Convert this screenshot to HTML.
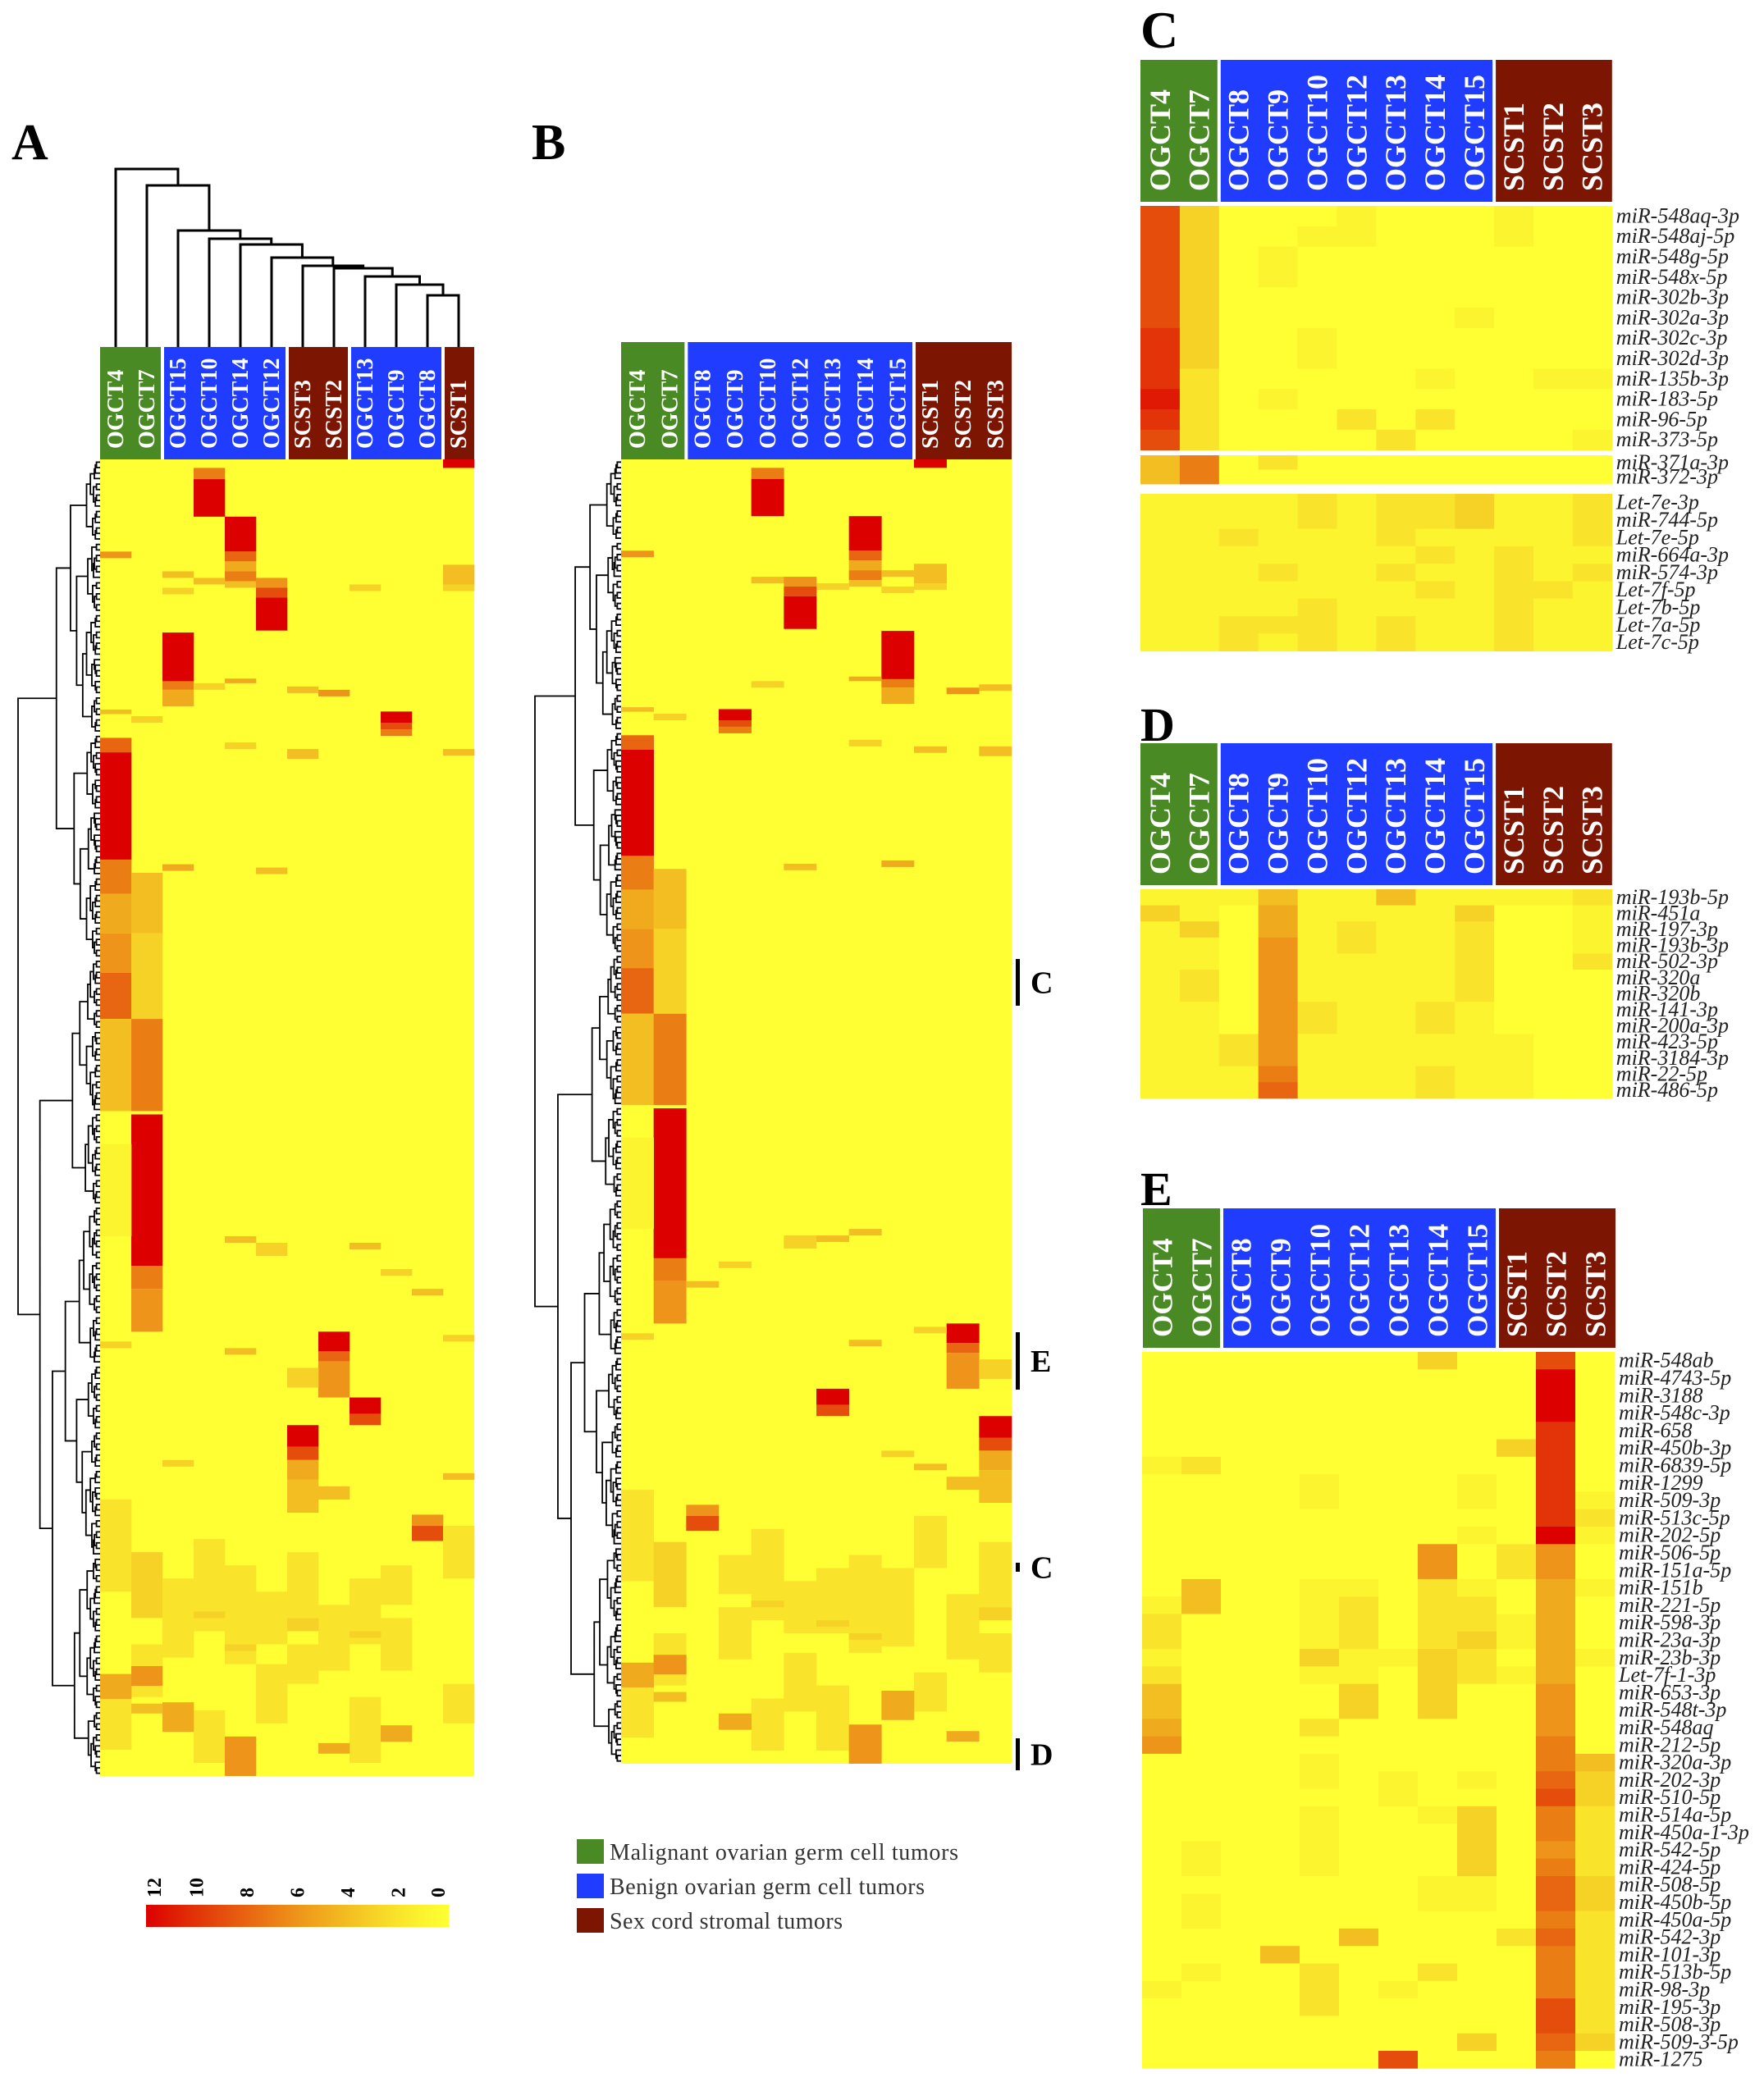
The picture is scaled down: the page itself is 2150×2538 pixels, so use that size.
<!DOCTYPE html>
<html><head><meta charset="utf-8">
<style>
html,body{margin:0;padding:0;background:#fff;}
svg{display:block;}
text{font-family:"Liberation Serif",serif;}
</style></head>
<body>
<svg id="fig" width="2150" height="2538" viewBox="0 0 2150 2538" xmlns="http://www.w3.org/2000/svg"></svg>
<script>
// ---------- data ----------
const aColumns = ['OGCT4','OGCT7','OGCT15','OGCT10','OGCT14','OGCT12','SCST3','SCST2','OGCT13','OGCT9','OGCT8','SCST1'];
const aGroups  = ['m','m','b','b','b','b','s','s','b','b','b','s'];
const bColumns = ['OGCT4','OGCT7','OGCT8','OGCT9','OGCT10','OGCT12','OGCT13','OGCT14','OGCT15','SCST1','SCST2','SCST3'];
const bGroups  = ['m','m','b','b','b','b','b','b','b','s','s','s'];
const bFromA   = [0,1,8,4,7,5,11,10,6,3,2,9];
const topMergeY = [206,226,281,291,298,314,324,327,337,347,360];
// heatmap segments (A column order, row units of 200)
const segCol = [11,3,3,4,4,4,4,4,0,2,11,11,3,2,8,5,5,5,2,2,2,3,4,7,6,0,9,9,9,1,0,0,6,4,11,0,0,0,0,0,1,1,1,2,5,1,1,1,0,4,5,8,10,9,7,7,7,6,11,0,4,8,8,6,6,6,6,7,2,11,10,10,
  0,1,2,3,4,5,6,7,8,9,11,0,1,3,5,8,2,4,6,9,11,
  0,1,2,4,7,9,1,4,6,8,3,5,11];
const segStart=[0,1.3,3,8.7,14,15.5,17,18.5,14,17,16,19,18,19.5,19,18,19.5,21,26.3,33.7,35,34,33.3,35,34.5,38,38.3,40,41,39,42.3,44.5,44,43,44,60.8,66,72,78,85,62.8,72,85,61.5,62,99.5,122.5,126,104,118,119,119,126,123,132.5,135.5,137,138,133,134,135,142.5,145,146.7,150,152,155,156,152,154,160.3,162,
  158,166,170,164,168,172,166,174,170,176,162,186,180,190,183,188,176,178,180,168,186,
  184.5,183.3,188.8,194,195,192.3,189,180,176,178,175];
const segEnd = [1.3,3,8.7,14,15.5,17,18.5,19.5,15,18,19,20,19,20.5,20,19.5,21,26,33.7,35,37.5,35,34,36,35.5,38.7,40,41,42,40,44.5,60.8,45.5,44,45,66,72,78,85,99,72,85,99,62.5,63,122.5,126,132.5,118,119,121,120,127,124,135.5,137,142.5,141,134,135,136,145,146.7,150,152,155,160,158,153,155,162,164.3,
  172,176,180,178,182,180,176,184,180,184,170,196,188,198,192,198,182,183,186,174,192,
  188.3,186.3,193.3,200,196.6,194.8,190.5,181,178,179,176];
const segVal = [12,7,12,12,8,5,7,4,6,4,4,3,4,3,3,6,9,12,12,7,5,3,5,6,4,4,12,9,7,3,8,12,4,3,4,7,5,6,8,4,4,3,7,5,4,12,7,6,1,4,3,4,4,3,12,8,6,3,3,3,4,12,9,12,9,5,4,4,3,4,6,9,
  2,3,2,2,2,2,2,2,2,2,2,2,2,2,2,2,2,2,2,2,2,
  5,6,5,6,5,5,4,3,3,3,3];
// panel C
const cLabels1 = ['miR-548aq-3p','miR-548aj-5p','miR-548g-5p','miR-548x-5p','miR-302b-3p','miR-302a-3p','miR-302c-3p','miR-302d-3p','miR-135b-3p','miR-183-5p','miR-96-5p','miR-373-5p'];
const cLabels2 = ['miR-371a-3p','miR-372-3p'];
const cLabels3 = ['Let-7e-3p','miR-744-5p','Let-7e-5p','miR-664a-3p','miR-574-3p','Let-7f-5p','Let-7b-5p','Let-7a-5p','Let-7c-5p'];
const cValues1 = [
[9,3,0,0,0,1,0,0,0,1,0,0],[9,3,0,0,1,1,0,0,0,1,0,0],[9,3,0,1,0,0,0,0,0,0,0,0],[9,3,0,1,0,0,0,0,0,0,0,0],
[9,3,0,0,0,0,0,0,0,0,0,0],[9,3,0,0,0,0,0,0,1,0,0,0],[10,3,0,0,1,0,0,0,0,0,0,0],[10,3,0,0,1,0,0,0,0,0,0,0],
[10,2,0,0,0,0,0,1,0,0,1,1],[11,2,0,1,0,0,0,0,0,0,0,0],[10,2,0,0,0,2,0,2,0,0,0,0],[9,2,0,0,0,0,2,0,0,0,0,1]];
const cValues2 = [[4,7,0,2,0,0,0,0,0,0,0,0],[4,7,0,0,0,0,0,0,0,0,0,0]];
const cValues3 = [
[1,1,1,1,2,1,2,2,3,1,1,2],[1,1,1,1,2,1,2,2,3,1,1,2],[1,1,2,1,1,1,2,1,1,1,1,2],
[1,1,1,1,1,1,1,2,1,2,1,1],[1,1,1,2,1,1,2,1,1,2,1,2],[1,1,1,1,1,1,1,2,1,2,2,1],
[1,1,1,1,2,1,1,1,1,2,1,1],[1,1,2,2,2,1,2,1,1,2,1,1],[1,1,2,1,2,1,2,1,1,2,1,1]];
// panel D
const dLabels = ['miR-193b-5p','miR-451a','miR-197-3p','miR-193b-3p','miR-502-3p','miR-320a','miR-320b','miR-141-3p','miR-200a-3p','miR-423-5p','miR-3184-3p','miR-22-5p','miR-486-5p'];
const dValues = [
[1,1,1,4,1,1,4,1,1,1,1,2],[3,1,0,5,1,1,1,1,3,0,0,1],[1,3,0,5,1,2,1,1,2,0,0,1],[1,1,0,6,1,2,1,1,2,0,0,1],
[1,1,0,6,1,1,1,1,2,0,0,2],[1,2,0,6,1,1,1,1,2,0,0,0],[1,2,0,6,1,1,1,1,2,0,0,0],[1,1,0,6,2,1,1,2,1,0,0,0],
[1,1,0,6,2,1,1,2,1,0,0,0],[1,1,2,6,1,1,1,1,1,1,0,0],[1,1,2,6,1,1,1,1,1,1,0,0],[1,1,1,7,1,1,1,2,1,1,0,0],
[1,1,1,8,1,1,1,2,1,1,0,0]];
// panel E
const eLabels = ['miR-548ab','miR-4743-5p','miR-3188','miR-548c-3p','miR-658','miR-450b-3p','miR-6839-5p','miR-1299','miR-509-3p','miR-513c-5p','miR-202-5p','miR-506-5p','miR-151a-5p','miR-151b','miR-221-5p','miR-598-3p','miR-23a-3p','miR-23b-3p','Let-7f-1-3p','miR-653-3p','miR-548t-3p','miR-548aq','miR-212-5p','miR-320a-3p','miR-202-3p','miR-510-5p','miR-514a-5p','miR-450a-1-3p','miR-542-5p','miR-424-5p','miR-508-5p','miR-450b-5p','miR-450a-5p','miR-542-3p','miR-101-3p','miR-513b-5p','miR-98-3p','miR-195-3p','miR-508-3p','miR-509-3-5p','miR-1275'];
const eValues = [
[0,0,0,0,0,0,0,3,0,0,9,0],[0,0,0,0,0,0,0,0,0,0,12,0],[0,0,0,0,0,0,0,0,0,0,12,0],[0,0,0,0,0,0,0,0,0,0,12,0],
[0,0,0,0,0,0,0,0,0,0,10,0],[0,0,0,0,0,0,0,0,0,3,10,0],[1,2,0,0,0,0,0,0,0,0,10,0],[0,0,0,0,1,0,0,0,1,0,10,0],
[0,0,0,0,1,0,0,0,1,0,10,1],[0,0,0,0,0,0,0,0,0,0,10,2],[0,0,0,0,0,0,0,0,1,0,12,1],[0,0,0,0,0,0,0,6,0,2,6,0],
[0,0,0,0,0,0,0,6,0,2,6,0],[0,4,0,0,1,1,0,2,1,0,5,1],[1,4,0,0,1,2,0,2,2,0,5,0],[2,0,0,0,1,2,0,2,2,1,5,0],
[2,0,0,0,1,2,0,2,3,1,5,0],[1,0,0,0,3,1,1,3,2,0,5,1],[2,0,0,0,1,1,0,3,2,1,5,0],[4,0,0,0,0,3,0,3,0,0,6,0],
[4,0,0,0,0,3,0,3,0,0,6,0],[5,0,0,0,2,0,0,0,0,0,6,0],[6,0,0,0,0,0,0,0,0,0,7,0],[0,0,0,0,1,0,0,0,0,0,7,4],
[0,0,0,0,1,0,1,0,1,0,8,3],[0,0,0,0,0,0,1,0,0,0,9,3],[0,0,0,0,1,0,0,1,3,0,7,2],[0,0,0,0,1,0,0,0,3,0,7,2],
[0,1,0,0,1,0,0,0,3,0,6,2],[0,1,0,0,1,0,0,0,3,0,7,2],[0,0,0,0,0,0,0,1,1,0,8,3],[0,1,0,0,0,0,0,1,1,0,8,3],
[0,1,0,0,0,0,0,0,0,0,7,2],[0,0,0,0,0,4,0,0,0,2,8,2],[0,0,0,4,0,0,0,0,0,0,7,2],[0,1,0,0,2,0,0,2,0,0,7,2],
[1,0,0,0,2,0,1,0,0,0,7,2],[0,0,0,0,2,0,0,0,0,0,9,2],[0,0,0,0,0,0,0,0,0,0,9,2],[0,0,0,0,0,0,0,0,3,0,8,3],
[0,0,0,0,0,0,9,0,0,0,7,0]];
const scaleTicks = [12,10,8,6,4,2,0];
const legendLabels = ['Malignant ovarian germ cell tumors','Benign ovarian germ cell tumors','Sex cord stromal tumors'];

// ---------- drawing ----------
const NS='http://www.w3.org/2000/svg';
const svg=document.getElementById('fig');
const GC={m:'#4a8a24',b:'#1f3cff',s:'#7c1502'};
function el(tag,parent){const e=document.createElementNS(NS,tag);(parent||svg).appendChild(e);return e;}
function heat(v){const t=Math.max(0,Math.min(12,v))/12;return 'rgb('+Math.round(255-35*t)+','+Math.round(255*(1-Math.pow(t,1.25)))+','+Math.round(51*(1-t))+')';}
function txt(x,y,s,size,opt,parent){const t=el('text',parent);t.setAttribute('x',x);t.setAttribute('y',y);t.setAttribute('font-size',size);
  if(opt.bold)t.setAttribute('font-weight','bold');if(opt.italic)t.setAttribute('font-style','italic');
  t.setAttribute('fill',opt.fill||'#000');if(opt.rot)t.setAttribute('transform','rotate(-90 '+x+' '+y+')');
  if(opt.anchor)t.setAttribute('text-anchor',opt.anchor);t.textContent=s;return t;}

function header(x0,cw,y0,y1,cols,groups,fs,name){
  const g=el('g');
  let s=0;
  for(let i=1;i<=cols.length;i++){
    if(i===cols.length||groups[i]!==groups[s]){
      const r=el('rect',g);r.setAttribute('x',x0+s*cw+(s?2:0));r.setAttribute('y',y0);
      r.setAttribute('width',(i-s)*cw-(s?2:0)-(i<cols.length?2:0));r.setAttribute('height',y1-y0);r.setAttribute('fill',GC[groups[s]]);
      
      
      s=i;}
  }
  cols.forEach((c,i)=>{const t=txt(x0+(i+0.5)*cw+fs*0.33,y1-13,c,fs,{bold:true,fill:'#fff',rot:true},g);
    
    });
}
function bigHeat(x0,y0,w,h,mapCol,name){
  const g=el('g');
  const cw=w/12,rh=h/200;
  const bg=el('rect',g);bg.setAttribute('x',x0);bg.setAttribute('y',y0);bg.setAttribute('width',w);bg.setAttribute('height',h);bg.setAttribute('fill',heat(0));
  for(let i=0;i<segCol.length;i++){
    const r=el('rect',g);const c=mapCol(segCol[i]);
    r.setAttribute('x',x0+c*cw);r.setAttribute('y',y0+segStart[i]*rh);r.setAttribute('width',cw+0.3);
    r.setAttribute('height',(segEnd[i]-segStart[i])*rh);r.setAttribute('fill',heat(segVal[i]));
    
    
  }
}
function rowTree(left,right,top,bottom,name){
  const g=el('g');
  const N=240,rh=(bottom-top)/N,fr=[0.38,0.55,0.3,0.62,0.45,0.7,0.5,0.35,0.58];
  let d='';
  function rec(lo,hi,depth){
    if(hi-lo<=1)return {x:right,y:top+(lo+0.5)*rh};
    let m=lo+Math.max(1,Math.min(hi-lo-1,Math.round((hi-lo)*fr[(depth+lo)%fr.length])));
    const a=rec(lo,m,depth+1),b=rec(m,hi,depth+1);
    const x=right-(right-left)*Math.pow((hi-lo)/N,0.65);
    d+='M'+a.x+' '+a.y+'H'+x+'V'+b.y+'H'+b.x;
    return {x:x,y:(a.y+b.y)/2};
  }
  rec(0,N,0);
  const p=el('path',g);p.setAttribute('d',d);p.setAttribute('stroke','#000');p.setAttribute('stroke-width','1.8');p.setAttribute('fill','none');
}
function smallHeat(x0,y0,cw,rh,vals,labels,name){
  const g=el('g');
  vals.forEach((row,ri)=>row.forEach((v,ci)=>{const r=el('rect',g);
    r.setAttribute('x',x0+ci*cw);r.setAttribute('y',y0+ri*rh);r.setAttribute('width',cw+0.4);r.setAttribute('height',rh+0.4);r.setAttribute('fill',heat(v));
    
    }));
  labels.forEach((l,i)=>{const t=txt(x0+12*cw+5,y0+(i+0.5)*rh+8,l,26,{italic:true,fill:'#222'},g);
    
    });
}
function panelLabel(s,x,y,size){const t=txt(x,y,s,size,{bold:true});
  
  }

// Panel A
panelLabel('A',14,194,62);
header(122,38,423,560,aColumns,aGroups,28,'panel-a-header');
bigHeat(122,560,456,1605,c=>c,'panel-a-heatmap');
rowTree(22,122,560,2165,'panel-a-row-dendrogram');
(function(){
  const g=el('g');
  const cx=i=>122+38*(i+0.5);
  let d='',nodeX=cx(11),nodeY=423;
  for(let i=10;i>=0;i--){const y=topMergeY[i];const lx=cx(i);
    d+='M'+lx+' 423V'+y+'H'+nodeX+'V'+nodeY;nodeX=(lx+nodeX)/2;nodeY=y;}
  const p=el('path',g);p.setAttribute('d',d);p.setAttribute('stroke','#000');p.setAttribute('stroke-width','3');p.setAttribute('fill','none');
})();
// Panel B
panelLabel('B',648,194,62);
header(757,39.67,417,560,bColumns,bGroups,28,'panel-b-header');
bigHeat(757,560,476,1590,c=>bFromA[c],'panel-b-heatmap');
rowTree(652,757,560,2150,'panel-b-row-dendrogram');
[['C',1169,1226],['E',1624,1694],['C',1905,1916],['D',2119,2158]].forEach(m=>{
  const r=el('rect');r.setAttribute('x',1238);r.setAttribute('y',m[1]);r.setAttribute('width',5);r.setAttribute('height',m[2]-m[1]);r.setAttribute('fill','#000');
  
  
  const t=txt(1256,(m[1]+m[2])/2+13,m[0],38,{bold:true});
  
  
});
// Color scale
(function(){
  const g=el('g');
  const defs=el('defs',g);const lg=el('linearGradient',defs);lg.setAttribute('id','grad');
  for(let i=0;i<=12;i++){const s=el('stop',lg);s.setAttribute('offset',(i/12));s.setAttribute('stop-color',heat(12-i));}
  const r=el('rect',g);r.setAttribute('x',178);r.setAttribute('y',2322);r.setAttribute('width',369);r.setAttribute('height',27);r.setAttribute('fill','url(#grad)');
  scaleTicks.forEach(v=>{const x=178+369*(12-v)/12+(v===12?18:v===0?-5:8);const t=txt(x,2313,String(v),24,{bold:true,rot:true},g);
    
    });
})();
// Legend
(function(){
  const g=el('g');
  ['m','b','s'].forEach((k,i)=>{const y=2242+i*42;const r=el('rect',g);r.setAttribute('x',703);r.setAttribute('y',y);r.setAttribute('width',33);r.setAttribute('height',30);r.setAttribute('fill',GC[k]);
    
    
    const t=txt(743,y+25,legendLabels[i],28,{fill:'#333'},g);t.setAttribute('textLength',[425,384,284][i]);
    
    });
})();
// Panel C
panelLabel('C',1390,58,64);
header(1390,47.9,73,246,bColumns,bGroups,36,'panel-c-header');
smallHeat(1390,251,47.9,24.8,cValues1,cLabels1,'panel-c-heatmap-1');
smallHeat(1390,555,47.9,17.5,cValues2,cLabels2,'panel-c-heatmap-2');
smallHeat(1390,602,47.9,21.3,cValues3,cLabels3,'panel-c-heatmap-3');
// Panel D
panelLabel('D',1390,903,58);
header(1390,47.9,906,1079,bColumns,bGroups,36,'panel-d-header');
smallHeat(1390,1084,47.9,19.6,dValues,dLabels,'panel-d-heatmap');
// Panel E
panelLabel('E',1390,1469,58);
header(1393,48,1473,1643,bColumns,bGroups,35,'panel-e-header');
smallHeat(1392,1648,48,21.3,eValues,eLabels,'panel-e-heatmap');
</script>
</body></html>
